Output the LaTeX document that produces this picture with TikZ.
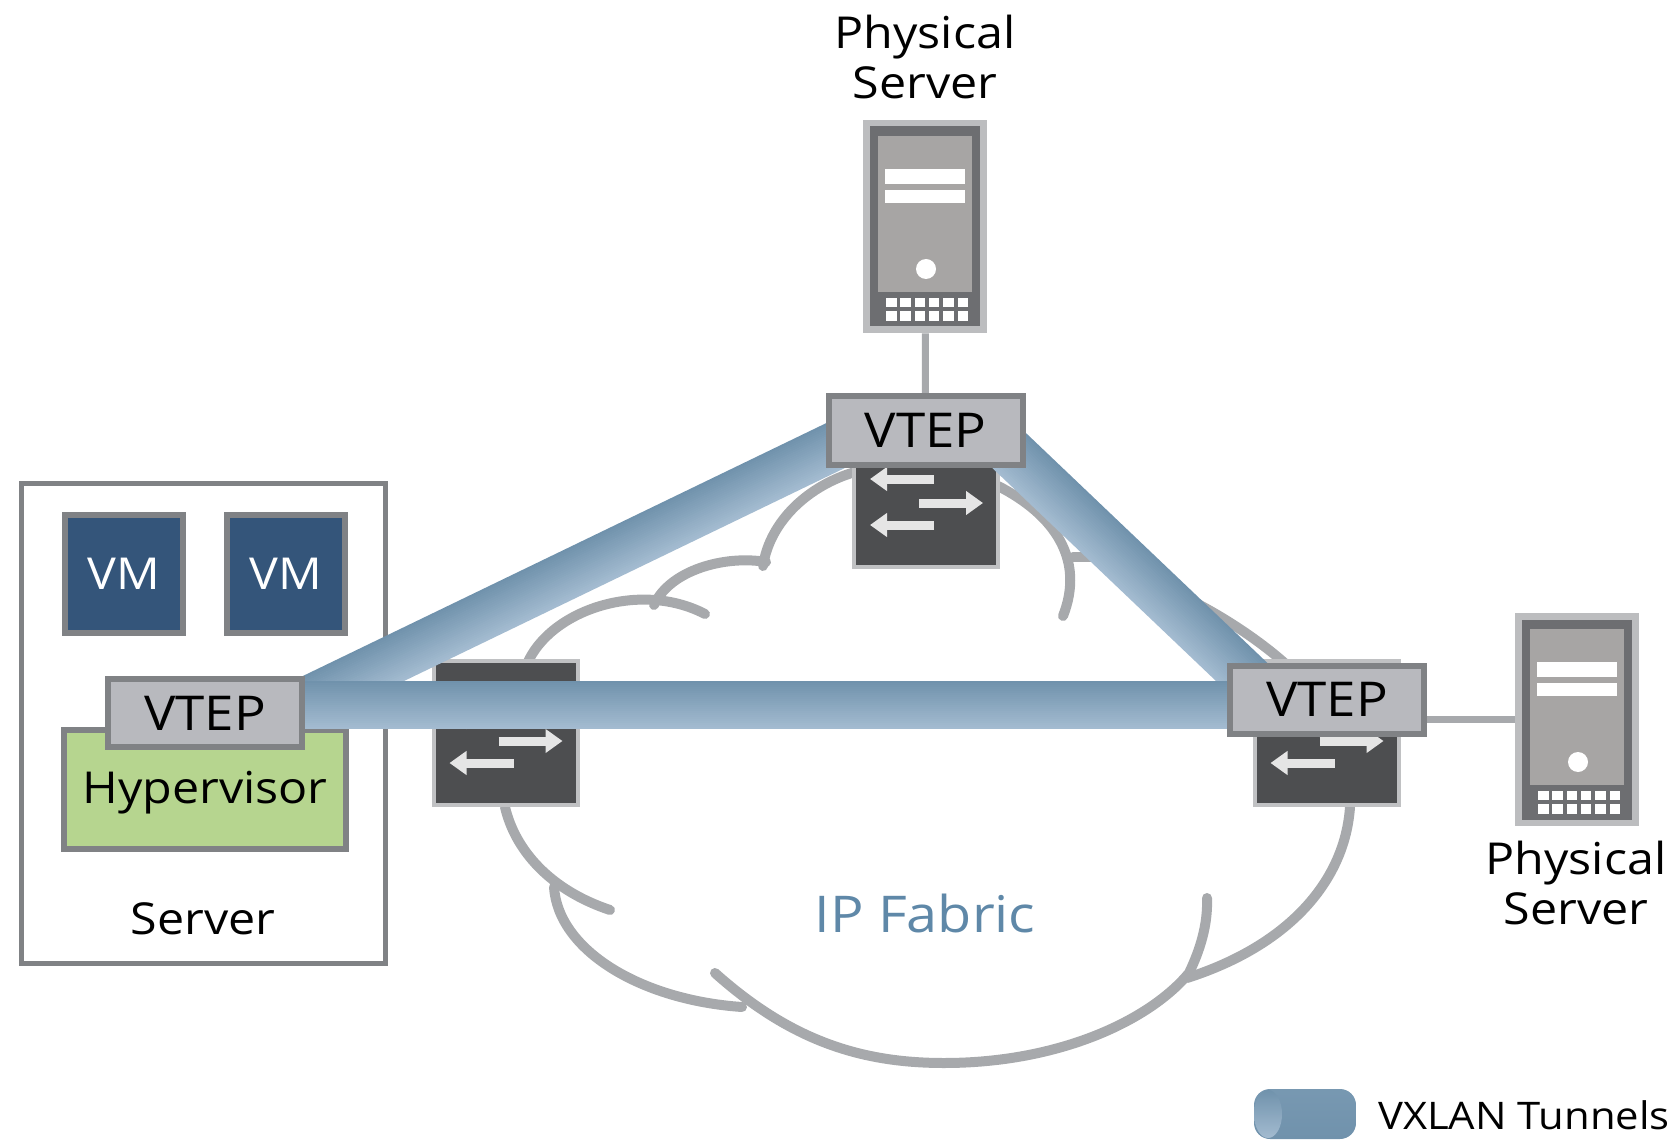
\documentclass[tikz,border=0pt]{standalone}
\usepackage{fontspec}
\setmainfont{Open Sans}[FakeStretch=1.1]
\usetikzlibrary{calc,arrows.meta,shapes.geometric}

\definecolor{frameGray}{RGB}{128,130,133}
\definecolor{cloudGray}{RGB}{167,169,172}
\definecolor{vtepFill}{RGB}{184,185,190}
\definecolor{vmBlue}{RGB}{52,85,122}
\definecolor{hyperGreen}{RGB}{182,213,143}
\definecolor{switchDark}{RGB}{77,78,80}
\definecolor{switchEdge}{RGB}{192,193,195}
\definecolor{srvEdge}{RGB}{188,189,191}
\definecolor{srvDark}{RGB}{109,110,113}
\definecolor{srvFace}{RGB}{167,165,164}
\definecolor{tubeDark}{RGB}{112,146,172}
\definecolor{tubeLight}{RGB}{163,187,208}
\definecolor{fabricBlue}{RGB}{95,136,168}

\pgfdeclarelayer{back}
\pgfdeclarelayer{mid}
\pgfsetlayers{back,mid,main}

\tikzset{every picture/.style={line width=0.75pt}}
\tikzset{
  lbl/.style={inner sep=0pt,font=\fontsize{33}{38}\selectfont,align=center},
  vmbox/.style={lbl,draw=frameGray,line width=4.5pt,fill=vmBlue,text=white,minimum width=89pt,minimum height=88.5pt},
  vtepbox/.style={lbl,font=\fontsize{36}{38}\selectfont,draw=frameGray,line width=4.5pt,fill=vtepFill,minimum width=145.5pt,minimum height=51pt},
  cloudline/.style={draw=cloudGray,line width=7.5pt,line cap=round},
  srvlink/.style={draw=cloudGray,line width=5.25pt},
  swarrow/.style={draw=white!90!black,line width=6.75pt,-{Triangle[length=12.75pt,width=17.25pt]}},
  physsrv/.pic={
    \node [fill=srvEdge,inner sep=0pt,minimum width=93pt,minimum height=159.75pt] (-body) at (0,0) {};
    \fill [srvDark] (-55,-100) rectangle (55,100);
    \fill [srvFace] (-47,-90.5) rectangle (47,65.5);
    \fill [white] (-40,-57.5) rectangle (40,-42.5);
    \fill [white] (-40,-36.5) rectangle (40,-23.5);
    \fill [white] (1,42.5) circle (7.5pt);
    \foreach \col in {0,...,5} {
      \fill [white] (-39+14.3*\col,71.5) rectangle ++(10.5,9);
      \fill [white] (-39+14.3*\col,84.5) rectangle ++(10.5,10);
    }
  },
  fabswitch/.pic={
    \node [draw=switchEdge,fill=switchDark,line width=3pt,inner sep=0pt,minimum size=108pt] (-body) at (0,0) {};
    \draw [swarrow] (8,-16) -- (-56,-16);
    \draw [swarrow] (-7,8) -- (57,8);
    \draw [swarrow] (8,30) -- (-56,30);
  },
}

% one tunnel, built from parallel stripes, dark side first
\newcommand{\tunnelline}[2]{
  \foreach \k in {0,...,23} {
    \pgfmathsetmacro{\tubeoff}{1.5*\k-17.25}
    \pgfmathtruncatemacro{\tubemix}{100-\k*100/23}
    \draw [color=tubeDark!\tubemix!tubeLight,line width=1.9pt] ($(#1)!\tubeoff pt!90:(#2)$) -- ($(#2)!\tubeoff pt!-90:(#1)$);
  }
}

\begin{document}
\begin{tikzpicture}[x=0.75pt,y=0.75pt,yscale=-1,xscale=1]
    \useasboundingbox (0,0) rectangle (1680,1144);

    %Shape: VTEP
    \draw (205,713) node [vtepbox] (vtepl) {VTEP};
    \draw (925.5,430.5) node [vtepbox] (vtept) {VTEP};
    \draw (1327,699.5) node [vtepbox] (vtepr) {VTEP};

    \begin{pgfonlayer}{back}
    %Shape: Cloud
    \draw [cloudline] (715,973) .. controls (790,1040) and (860,1063) .. (944,1063) .. controls (1060,1063) and (1150,1020) .. (1189,973) .. controls (1200,950) and (1208,925) .. (1207,898);
    \draw [cloudline] (554,887) .. controls (558,950) and (640,1000) .. (742,1007);
    \draw [cloudline] (505,807) .. controls (515,850) and (550,890) .. (610,910);
    \draw [cloudline] (1350,807) .. controls (1345,880) and (1290,945) .. (1187,978);
    \draw [cloudline] (527,664) .. controls (550,610) and (640,580) .. (705,614);
    \draw [cloudline] (654,605) .. controls (670,570) and (725,555) .. (766,562);
    \draw [cloudline] (763,566) .. controls (770,520) and (810,485) .. (855,472);
    \draw [cloudline] (998,486) .. controls (1055,515) and (1085,560) .. (1063,616);
    \draw [cloudline] (1073,557) -- (1100,557);
    \draw [cloudline] (1190,600) .. controls (1220,615) and (1260,640) .. (1290,668);

    %Shape: Server box
    \draw (203,723) node [draw=frameGray,line width=3.75pt,fill=white,minimum width=273pt,minimum height=360pt] (srvbox) {};
    \draw (124,574) node [vmbox] (vma) {VM};
    \draw (286,574) node [vmbox] (vmb) {VM};
    \draw (205,789.5) node [lbl,draw=frameGray,line width=4.5pt,fill=hyperGreen,minimum width=211.5pt,minimum height=89pt] (hyper) {};

    %Shape: Fabric switches
    \path (505.5,733) pic [yscale=-1] (swl) {fabswitch};
    \path (926,495) pic [yscale=-1] (swt) {fabswitch};
    \path (1326.5,733) pic [yscale=-1] (swr) {fabswitch};

    %Shape: Physical servers
    \path (925,226.5) pic [yscale=-1] (srvt) {physsrv};
    \path (1577,719.5) pic [yscale=-1] (srvr) {physsrv};

    %Straight Lines
    \draw [srvlink] (srvt-body) -- (vtept);
    \draw [srvlink] (srvr-body.west) -- (srvr-body.west -| vtepr.east);
    \end{pgfonlayer}

    %Tunnels
    \coordinate (dial) at ($(vtepl.center)+(75,1)$);
    \coordinate (diat) at ($(vtept.center)+(-65,3)$);
    \coordinate (dirt) at ($(vtept.center)+(50,-12)$);
    \coordinate (dirr) at ($(vtepr.center)+(-69,-12)$);
    \coordinate (horl) at ($(vtepl.center)+(75,-8)$);
    \coordinate (horr) at ($(vtepr.center)+(-75,5.5)$);
    \begin{pgfonlayer}{mid}
    \tunnelline{dial}{diat}
    \tunnelline{dirt}{dirr}
    \tunnelline{horl}{horr}
    \end{pgfonlayer}

    %Shape: Legend
    \draw (1305,1114) node [rounded corners=12pt,top color=tubeDark!85!tubeLight,middle color=tubeLight,bottom color=tubeDark,inner sep=0pt,minimum width=76.5pt,minimum height=37.5pt] (legtube) {};
    \draw (1268,1114) node [ellipse,top color=tubeDark,bottom color=tubeLight,inner sep=0pt,minimum width=21pt,minimum height=36pt] (legend) {};

    % Text Node
    \draw (205,793) node [lbl] (hypertxt) {Hypervisor};
    % Text Node
    \draw (203,919) node [lbl] (srvtxt) {Server};
    % Text Node
    \draw (925,57) node [lbl] (srvttxt) {Physical\\Server};
    % Text Node
    \draw (1576,883) node [lbl] (srvrtxt) {Physical\\Server};
    % Text Node
    \draw (925,913) node [lbl,text=fabricBlue,font=\fontsize{38}{45}\selectfont] (fabric) {IP Fabric};
    % Text Node
    \draw (1524,1115) node [lbl,font=\fontsize{28.5}{35}\selectfont] (legtxt) {VXLAN Tunnels};

\end{tikzpicture}
\end{document}
